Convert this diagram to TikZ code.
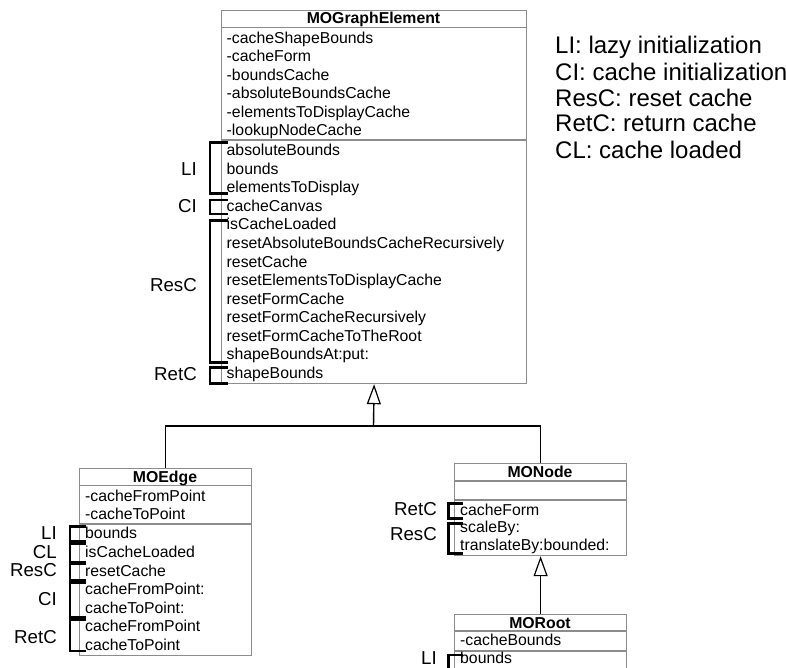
\documentclass[tikz,border=0pt]{standalone}
\usepackage{fontspec}
\setmainfont{Liberation Sans}
\usetikzlibrary{arrows.meta}
\definecolor{boxgray}{gray}{0.55}
\newcommand\mybracket[4]{\draw[brk] (#2,#3) -| (#1,#4) -- (#2,#4);}
\begin{document}
\begin{tikzpicture}[x=1pt,y=-1pt,
  boxtxt/.style={anchor=base west, inner sep=0pt, font=\fontsize{15.8}{18}\selectfont},
  titletxt/.style={anchor=base, inner sep=0pt, font=\fontsize{15.8}{18}\selectfont\bfseries},
  lbl/.style={anchor=base east, inner sep=0pt, font=\fontsize{18.7}{20}\selectfont},
  legendtxt/.style={anchor=base west, inner sep=0pt, font=\fontsize{24}{26}\selectfont},
  classbox/.style={draw=boxgray, line width=1.2pt, inner sep=0pt, anchor=north west, fill=white},
  sep/.style={draw=boxgray, line width=1.2pt},
  brk/.style={line width=2.6pt, line cap=butt, line join=miter},
  conn/.style={line width=1.4pt},
  inherit/.style={conn, -{Triangle[open, length=20pt, width=14pt, line width=1.2pt]}}]
\useasboundingbox (0,0) rectangle (786,668);

% ---------- MOGraphElement ----------
\node[classbox, minimum width=305pt, minimum height=373pt] (ge) at (221,10) {};
\draw[sep] (221,27.5) -- (526,27.5);
\draw[sep] (221,140) -- (526,140);
\node[titletxt] (ge-t) at (373.5,24) {MOGraphElement};
\foreach \t [count=\i from 0] in {-cacheShapeBounds,-cacheForm,-boundsCache,-absoluteBoundsCache,-elementsToDisplayCache,-lookupNodeCache}
  \node[boxtxt] (ge-a\i) at ({226.5},{43.3+18.46*\i}) {\t};
\foreach \t [count=\i from 0] in {absoluteBounds,bounds,elementsToDisplay,cacheCanvas,isCacheLoaded,resetAbsoluteBoundsCacheRecursively,resetCache,resetElementsToDisplayCache,resetFormCache,resetFormCacheRecursively,resetFormCacheToTheRoot,shapeBoundsAt:put:,shapeBounds}
  \node[boxtxt] (ge-m\i) at ({226.5},{155.6+18.58*\i}) {\t};
\mybracket{210}{228}{142.7}{193.3}
\mybracket{210}{228}{200}{214}
\mybracket{210}{228}{220.7}{362.7}
\mybracket{210}{228}{367.7}{383.3}
\node[lbl] (ge-li) at (197,175.7) {LI};
\node[lbl] (ge-ci) at (197,212.4) {CI};
\node[lbl] (ge-resc) at (197,291.7) {ResC};
\node[lbl] (ge-retc) at (197,380.7) {RetC};

% ---------- MOEdge ----------
\node[classbox, minimum width=172pt, minimum height=187pt] (edge) at (79,468) {};
\draw[sep] (79,485.5) -- (251,485.5);
\draw[sep] (79,524) -- (251,524);
\node[titletxt] (edge-t) at (165,482.4) {MOEdge};
\node[boxtxt] (edge-a0) at (85,501.6) {-cacheFromPoint};
\node[boxtxt] (edge-a1) at (85,519.6) {-cacheToPoint};
\foreach \t [count=\i from 0] in {bounds,isCacheLoaded,resetCache,cacheFromPoint:,cacheToPoint:,cacheFromPoint,cacheToPoint}
  \node[boxtxt] (edge-m\i) at ({85},{538.9+18.6*\i}) {\t};
\mybracket{70}{86}{526.7}{541.7}
\mybracket{70}{86}{543.5}{562}
\mybracket{70}{86}{564}{580.5}
\mybracket{70}{86}{583}{617.5}
\mybracket{70}{86}{620}{651}
\node[lbl] (edge-li) at (57,539.7) {LI};
\node[lbl] (edge-cl) at (57,558.7) {CL};
\node[lbl] (edge-resc) at (57,576.7) {ResC};
\node[lbl] (edge-ci) at (57,605.7) {CI};
\node[lbl] (edge-retc) at (57,643.7) {RetC};

% ---------- MONode ----------
\node[classbox, minimum width=172pt, minimum height=92pt] (mon) at (454,463) {};
\draw[sep] (454,481) -- (626,481);
\draw[sep] (454,500) -- (626,500);
\node[titletxt] (mon-t) at (540,477.6) {MONode};
\node[boxtxt] (mon-m0) at (460,515.1) {cacheForm};
\node[boxtxt] (mon-m1) at (460,532.6) {scaleBy:};
\node[boxtxt] (mon-m2) at (460,550.1) {translateBy:bounded:};
\mybracket{448.3}{463}{503.3}{518.3}
\mybracket{448.3}{463}{523.3}{553.3}
\node[lbl] (mon-retc) at (437,515.7) {RetC};
\node[lbl] (mon-resc) at (437,540.7) {ResC};

% ---------- MORoot ----------
\node[classbox, minimum width=172pt, minimum height=90pt] (root) at (454,614) {};
\draw[sep] (454,631) -- (626,631);
\draw[sep] (454,651) -- (626,651);
\node[titletxt] (root-t) at (540,628) {MORoot};
\node[boxtxt] (root-a0) at (460,645.6) {-cacheBounds};
\node[boxtxt] (root-m0) at (460,663.9) {bounds};
\draw[brk] (463,655) -| (448.3,690);
\node[lbl] (root-li) at (437,664.7) {LI};

% ---------- inheritance ----------
\coordinate (jn) at (373.5,426);
\draw[conn] (edge.north) |- (jn);
\draw[conn] (mon.north) |- (jn);
\draw[inherit] (jn) -- (ge.south);
\draw[inherit] (root.north) -- (mon.south);

% ---------- legend ----------
\node[legendtxt] (leg1) at (555,53.6) {LI: lazy initialization};
\node[legendtxt] (leg2) at (555,80.3) {CI: cache initialization};
\node[legendtxt] (leg3) at (555,106.3) {ResC: reset cache};
\node[legendtxt] (leg4) at (555,131.9) {RetC: return cache};
\node[legendtxt] (leg5) at (555,158.6) {CL: cache loaded};
\end{tikzpicture}
\end{document}
